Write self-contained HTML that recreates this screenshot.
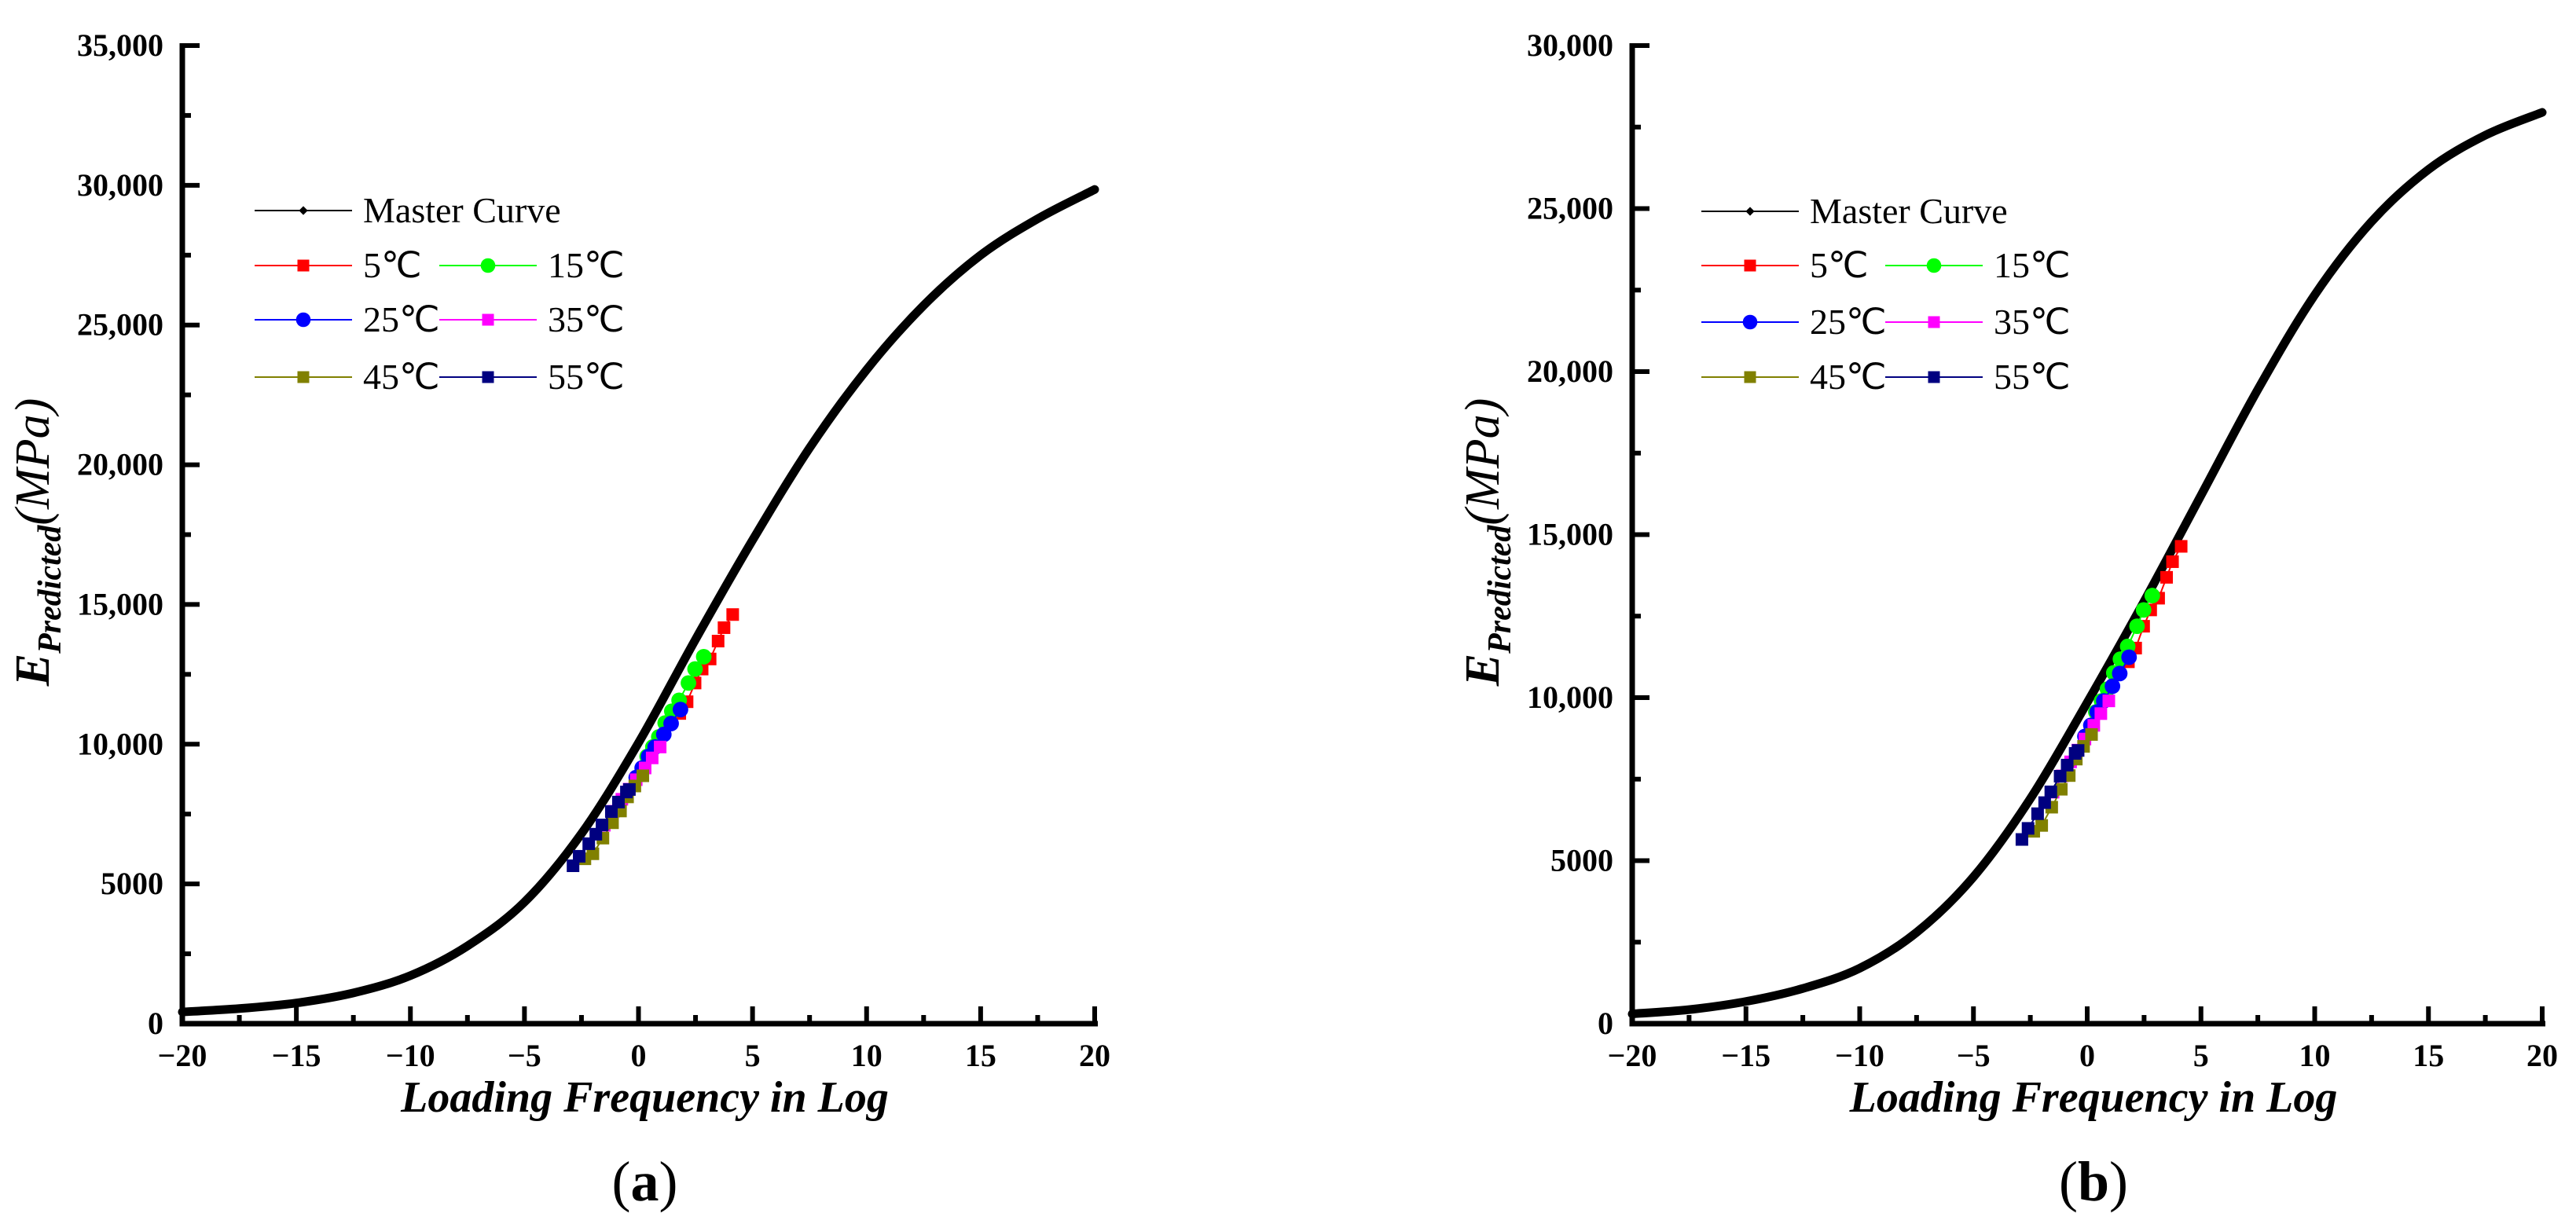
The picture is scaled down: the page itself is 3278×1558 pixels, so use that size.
<!DOCTYPE html>
<html><head><meta charset="utf-8"><style>
html,body{margin:0;padding:0;background:#fff}
svg{display:block}
text{font-family:"Liberation Serif",serif}
</style></head><body>
<svg id="fig" width="3278" height="1558" viewBox="0 0 3278 1558" xmlns="http://www.w3.org/2000/svg"></svg>
<script>
const masterX = [-20,-17.5,-15,-12.5,-10,-7.5,-5,-2.5,0,2.5,5,7.5,10,12.5,15,17.5,20];
const masterA = [420,540,740,1100,1720,2780,4350,6800,10050,13750,17300,20600,23400,25700,27500,28800,29850];
const masterB = [300,430,680,1080,1700,2800,4500,6900,9850,12950,16200,19450,22350,24600,26200,27250,27950];
const t5x = [4.13,3.75,3.49,3.14,2.79,2.48,2.13,1.81];
const t5y = [14640,14170,13690,13050,12690,12190,11520,11100];
const t15x = [2.86,2.48,2.19,1.78,1.46,1.17,0.89,0.63,0.38];
const t15y = [13130,12690,12190,11570,11180,10760,10260,9900,9560];
const t25x = [1.84,1.43,1.11,0.73,0.44,0.16,-0.1];
const t25y = [11240,10740,10350,9900,9560,9150,8810];
const t35x = [0.95,0.60,0.29,-0.1,-0.41,-0.73,-1.1,-1.5];
const t35y = [9900,9510,9150,8730,8390,8030,7600,7100];
const t45x = [0.19,-0.16,-0.48,-0.79,-1.14,-1.56,-2.0,-2.35];
const t45y = [8870,8505,8115,7610,7190,6640,6080,5900];
const t55x = [-0.4,-0.53,-0.88,-1.19,-1.6,-1.87,-2.18,-2.6,-2.87];
const t55y = [8380,8290,7930,7590,7110,6780,6440,5990,5650];
const xTicks = [-20,-15,-10,-5,0,5,10,15,20];
const xTickLabels = ["\u221220","\u221215","\u221210","\u22125","0","5","10","15","20"];
const yTicksA = [0,5000,10000,15000,20000,25000,30000,35000];
const yTickLabelsA = ["0","5000","10,000","15,000","20,000","25,000","30,000","35,000"];
const yTicksB = [0,5000,10000,15000,20000,25000,30000];
const yTickLabelsB = ["0","5000","10,000","15,000","20,000","25,000","30,000"];
const legendLabels = ["Master Curve","5\u2103","15\u2103","25\u2103","35\u2103","45\u2103","55\u2103"];

const NS="http://www.w3.org/2000/svg";
const svg=document.getElementById('fig');
function mk(tag,attrs,parent){const e=document.createElementNS(NS,tag);for(const k in attrs)e.setAttribute(k,attrs[k]);(parent||svg).appendChild(e);return e;}

const seriesDefs=[
 {xs:t5x,ys:t5y,color:"#ff0000",shape:"sq",name:"5c"},
 {xs:t15x,ys:t15y,color:"#00ff00",shape:"ci",name:"15c"},
 {xs:t25x,ys:t25y,color:"#0000ff",shape:"ci",name:"25c"},
 {xs:t35x,ys:t35y,color:"#ff00ff",shape:"sq",name:"35c"},
 {xs:t45x,ys:t45y,color:"#808000",shape:"sq",name:"45c"},
 {xs:t55x,ys:t55y,color:"#000080",shape:"sq",name:"55c"}
];

function marker(g,shape,cx,cy,color,s){
  let m;
  if(shape==="sq") m=mk('rect',{x:cx-s/2,y:cy-s/2,width:s,height:s,fill:color},g);
  else m=mk('circle',{cx:cx,cy:cy,r:s*0.62,fill:color},g);
  return m;
}

function panel(id,x0,x1,y0,yTop,yMax,master,yT,yL,legX,legRows,labelLetter){
  const g=mk('g',{});
  
  
  const sx=v=>x0+(v+20)/40*(x1-x0);
  const sy=v=>y0-v/yMax*(y0-yTop);
  for(let v=-20;v<=20;v+=2.5){
    const major=(v%5===0);
    const t=mk('line',{x1:sx(v),x2:sx(v),y1:y0,y2:y0-(major?22:11),stroke:'#000','stroke-width':6},g);
    
    
  }
  for(let v=0;v<=yMax;v+=2500){
    const major=(v%5000===0);
    const t=mk('line',{x1:x0,x2:x0+(major?22:11),y1:sy(v),y2:sy(v),stroke:'#000','stroke-width':6},g);
    
    
  }
  xTicks.forEach((v,i)=>{
    const t=mk('text',{x:sx(v),y:y0+54,'font-size':40,'font-weight':'bold','text-anchor':'middle'},g);
    t.textContent=xTickLabels[i];
    
    
  });
  yT.forEach((v,i)=>{
    const t=mk('text',{x:x0-24,y:sy(v)+13,'font-size':40,'font-weight':'bold','text-anchor':'end'},g);
    t.textContent=yL[i];
    
    
  });
  const ax=mk('path',{d:`M${x0},${yTop-3}V${y0}H${x1+4}`,fill:'none',stroke:'#000','stroke-width':7},g);
  
  
  const P=masterX.map((v,i)=>[sx(v),sy(master[i])]);
  let d=`M${P[0][0]},${P[0][1]}`;
  for(let i=0;i<P.length-1;i++){
    const p0=P[Math.max(0,i-1)],p1=P[i],p2=P[i+1],p3=P[Math.min(P.length-1,i+2)];
    const c1=[p1[0]+(p2[0]-p0[0])/6,p1[1]+(p2[1]-p0[1])/6];
    const c2=[p2[0]-(p3[0]-p1[0])/6,p2[1]-(p3[1]-p1[1])/6];
    d+=`C${c1[0]},${c1[1]} ${c2[0]},${c2[1]} ${p2[0]},${p2[1]}`;
  }
  const mc=mk('path',{d:d,fill:'none',stroke:'#000','stroke-width':11,'stroke-linecap':'round'},g);
  
  
  seriesDefs.forEach(s=>{
    const sg=mk('g',{},g);
    
    
    const pts=s.xs.map((v,i)=>sx(v)+','+sy(s.ys[i])).join(' ');
    mk('polyline',{points:pts,fill:'none',stroke:s.color,'stroke-width':2},sg);
    s.xs.forEach((v,i)=>{
      const m=marker(sg,s.shape,sx(v),sy(s.ys[i]),s.color,16);
      
      
    });
  });
  const lg=mk('g',{},g);
  
  
  const entries=[[0,0,null],[0,1,0],[1,1,1],[0,2,2],[1,2,3],[0,3,4],[1,3,5]];
  entries.forEach((e,k)=>{
    const col=e[0],row=e[1];
    const lx=legX[col],ly=legRows[row];
    const color=e[2]===null?'#000':seriesDefs[e[2]].color;
    const eg=mk('g',{},lg);
    
    
    mk('line',{x1:lx,x2:lx+124,y1:ly,y2:ly,stroke:color,'stroke-width':2},eg);
    if(e[2]===null) mk('rect',{x:lx+58,y:ly-4,width:8,height:8,fill:'#000',transform:`rotate(45 ${lx+62} ${ly})`},eg);
    else marker(eg,seriesDefs[e[2]].shape,lx+62,ly,color,15);
    const t=mk('text',{x:lx+138,y:ly+15,'font-size':46},eg);
    t.textContent=legendLabels[k];
  });
  const xt=mk('text',{x:(x0+x1)/2+8,y:y0+112,'font-size':56,'font-weight':'bold','font-style':'italic','text-anchor':'middle'},g);
  xt.textContent='Loading Frequency in Log';
  
  
  const yc=690;
  const yt=mk('text',{x:0,y:0,'font-size':62,'font-style':'italic','text-anchor':'middle',transform:`translate(${x0-170},${yc}) rotate(-90)`},g);
  yt.innerHTML='<tspan font-weight="bold">E</tspan><tspan font-size="42" dy="15" font-weight="bold">Predicted</tspan><tspan dy="-15">(MPa)</tspan>';
  
  
  const pl=mk('text',{x:(x0+x1)/2+8,y:1528,'font-size':72,'text-anchor':'middle'},g);
  pl.innerHTML='(<tspan font-weight="bold">'+labelLetter+'</tspan>)';
  
  
}
panel('a',232,1393,1303,58,35000,masterA,yTicksA,yTickLabelsA,[324,559],[268,338,407,480],'a');
panel('b',2077,3235,1303,58,30000,masterB,yTicksB,yTickLabelsB,[2165,2399],[269,338,410,480],'b');
</script>
</body></html>
